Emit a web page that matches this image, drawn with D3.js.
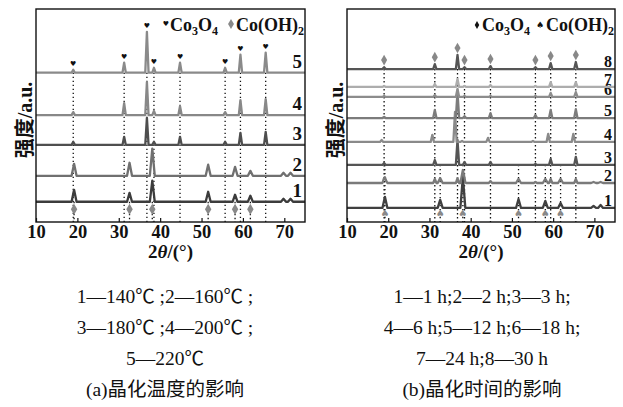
<!DOCTYPE html>
<html>
<head>
<meta charset="utf-8">
<script src="https://cdn.jsdelivr.net/npm/d3@7"></script>
<style>
  body { margin: 0; background: #fff; }
  text { font-family: "Liberation Serif", "Noto Sans CJK SC", serif; }
</style>
</head>
<body>
<script>
// 衍射峰位置 2θ/(°)
const peaksCo3O4 = [19.0, 31.3, 36.8, 38.5, 44.8, 55.7, 59.4, 65.5];
const peaksCoOH2 = [19.2, 32.6, 38.1, 51.6, 58.1, 61.8, 69.8, 71.5];
const xTicks = [10, 20, 30, 40, 50, 60, 70];

// (a) 晶化温度 —— 曲线 1..5，基线偏移和峰高 (a.u.)
const labelsA = ["1", "2", "3", "4", "5"];
const offsetA = [9.5, 21.7, 36.2, 50.2, 70.1];
const co3o4A = [
  [0, 0, 0, 0, 0, 0, 0, 0],
  [0, 0, 0, 0, 0, 0, 0, 0],
  [1.4, 3.8, 12.7, 1.4, 3.8, 1.4, 5.6, 6.1],
  [1.4, 5.6, 15.5, 1.9, 4.2, 1.4, 7.0, 7.5],
  [1.4, 4.7, 19.2, 2.3, 4.7, 2.3, 8.5, 9.4]
];
const coOH2A = [
  [5.6, 4.2, 9.9, 4.7, 3.3, 2.8, 1.4, 1.4],
  [5.6, 6.1, 12.7, 5.2, 4.2, 2.3, 1.4, 1.4],
  [0, 0, 0, 0, 0, 0, 0, 0],
  [0, 0, 0, 0, 0, 0, 0, 0],
  [0, 0, 0, 0, 0, 0, 0, 0]
];
const captionA = ["1—140℃ ;2—160℃ ;", "3—180℃ ;4—200℃ ;", "5—220℃", "(a)晶化温度的影响"];

// (b) 晶化时间 —— 曲线 1..8
const labelsB = ["1", "2", "3", "4", "5", "6", "7", "8"];
const offsetB = [6.6, 18.3, 26.8, 37.6, 48.8, 58.7, 63.4, 71.8];
const shiftB = [0, 0, 0, -0.6, 0, 0, 0, 0];
const co3o4B = [
  [0, 0, 0, 0, 0, 0, 0, 0],
  [0.9, 1.9, 2.3, 0.5, 0.9, 0.5, 1.9, 1.9],
  [0.9, 2.3, 11.7, 1.4, 1.4, 0.5, 2.8, 3.8],
  [0.9, 3.3, 14.1, 0.5, 1.9, 0.5, 3.8, 3.8],
  [0.5, 3.8, 12.2, 0.9, 2.3, 1.4, 3.8, 4.2],
  [0.5, 0.9, 3.8, 0.5, 0.5, 0.5, 1.9, 2.3],
  [0.5, 1.4, 3.8, 0.5, 0.9, 0.5, 2.3, 2.3],
  [0.9, 2.3, 6.6, 0.9, 1.4, 0.9, 2.8, 3.3]
];
const coOH2B = [
  [5.2, 3.8, 14.6, 4.2, 3.3, 2.3, 0.9, 1.4],
  [2.3, 2.3, 6.1, 1.9, 1.9, 1.9, 0.5, 0.5],
  [0, 0, 0, 0, 0, 0, 0, 0],
  [0, 0, 0, 0, 0, 0, 0, 0],
  [0, 0, 0, 0, 0, 0, 0, 0],
  [0, 0, 0, 0, 0, 0, 0, 0],
  [0, 0, 0, 0, 0, 0, 0, 0],
  [0, 0, 0, 0, 0, 0, 0, 0]
];
const captionB = ["1—1 h;2—2 h;3—3 h;", "4—6 h;5—12 h;6—18 h;", "7—24 h;8—30 h", "(b)晶化时间的影响"];

const svg = d3.select("body").append("svg")
  .attr("width", 623)
  .attr("height", 407);

function drawPanel(p) {
  const x = d3.scaleLinear().domain([10, 75]).range([p.left, p.right]);
  const y = d3.scaleLinear().domain([0, 100]).range([222, 9]);
  const g = svg.append("g");
  const n = p.labels.length;
  const top = n - 1;

  // 每条曲线的峰列表
  const peakList = (i) => {
    const shift = p.shift ? p.shift[i] : 0;
    const list = [];
    p.co3o4[i].forEach((h, k) => { if (h > 0) list.push({ p: peaksCo3O4[k] + shift, h, w: 0.4 }); });
    p.cooh2[i].forEach((h, k) => { if (h > 0) list.push({ p: peaksCoOH2[k] + shift, h, w: 0.6 }); });
    return list;
  };

  // 虚线 (先画，在曲线下面)
  g.selectAll(".dot-co3o4")
    .data(peaksCo3O4)
    .join("line")
    .attr("x1", (d) => x(d)).attr("x2", (d) => x(d))
    .attr("y1", y(p.offset[top])).attr("y2", y(0))
    .attr("stroke", "#111").attr("stroke-width", 1.3)
    .attr("stroke-dasharray", "1.4,2.6");

  g.selectAll(".dot-cooh2")
    .data(peaksCoOH2.slice(0, 6))
    .join("line")
    .attr("x1", (d) => x(d)).attr("x2", (d) => x(d))
    .attr("y1", y(p.offset[p.dotTop])).attr("y2", y(0))
    .attr("stroke", "#111").attr("stroke-width", 1.3)
    .attr("stroke-dasharray", "1.4,2.6");

  // 曲线
  const line = d3.line().x((d) => x(d[0])).y((d) => y(d[1]));
  p.labels.forEach((lab, i) => {
    const pk = peakList(i);
    const xs = new Set([10, 75]);
    pk.forEach((q) => { xs.add(q.p - q.w); xs.add(q.p); xs.add(q.p + q.w); });
    const pts = [...xs].sort((a, b) => a - b).map((v) => [
      v,
      p.offset[i] + d3.sum(pk, (q) => Math.max(0, q.h * (1 - Math.abs(v - q.p) / q.w)))
    ]);
    g.append("path")
      .attr("d", line(pts))
      .attr("fill", "none")
      .attr("stroke", p.colors[i])
      .attr("stroke-width", 2.3)
      .attr("stroke-linejoin", "round");

    g.append("text")
      .attr("x", p.right - 3)
      .attr("y", y(p.offset[i]) - p.labelGap)
      .attr("text-anchor", "end")
      .style("font-size", p.labelSize + "px")
      .style("font-weight", "bold")
      .attr("fill", "#111")
      .text(lab);
  });

  // Co3O4 标记 (最上面曲线的峰顶之上)
  const markTop = peaksCo3O4.map((d, k) => ({ a: d, v: p.offset[top] + p.co3o4[top][k] + 3.3 }));
  if (p.heart) {
    g.selectAll(".mk-co3o4")
      .data(markTop)
      .join("text")
      .attr("x", (d) => x(d.a)).attr("y", (d) => y(d.v) + 3)
      .attr("text-anchor", "middle")
      .style("font-family", "DejaVu Sans")
      .style("font-size", "7px")
      .attr("fill", "#111")
      .text("♥");
  } else {
    g.selectAll(".mk-co3o4")
      .data(markTop)
      .join("path")
      .attr("transform", (d) => `translate(${x(d.a)},${y(d.v)})`)
      .attr("d", d3.symbol(d3.symbolDiamond, 32)())
      .attr("fill", "#888");
  }

  // Co(OH)2 标记 (最下面曲线之下)
  const markBot = peaksCoOH2.slice(0, 6);
  if (p.heart) {
    g.selectAll(".mk-cooh2")
      .data(markBot)
      .join("path")
      .attr("transform", (d) => `translate(${x(d)},${y(p.offset[0] - 3.5)})`)
      .attr("d", d3.symbol(d3.symbolDiamond, 36)())
      .attr("fill", "#888");
  } else {
    g.selectAll(".mk-cooh2")
      .data(markBot)
      .join("text")
      .attr("x", (d) => x(d)).attr("y", y(p.offset[0] - 2.5) + 4)
      .attr("text-anchor", "middle")
      .style("font-family", "DejaVu Sans")
      .style("font-size", "10px")
      .attr("fill", "#888")
      .text("♠");
  }

  // 图例
  const leg = g.append("g");
  if (p.heart) {
    leg.append("text").attr("x", p.leg[0]).attr("y", 26)
      .attr("text-anchor", "middle").style("font-family", "DejaVu Sans")
      .style("font-size", "7px").attr("fill", "#111").text("♥");
    leg.append("path").attr("transform", `translate(${p.leg[2]},24)`)
      .attr("d", d3.symbol(d3.symbolDiamond, 30)()).attr("fill", "#888");
  } else {
    leg.append("path").attr("transform", `translate(${p.leg[0]},25)`)
      .attr("d", d3.symbol(d3.symbolDiamond, 18)()).attr("fill", "#111");
    leg.append("text").attr("x", p.leg[2]).attr("y", 28)
      .attr("text-anchor", "middle").style("font-family", "DejaVu Sans")
      .style("font-size", "9px").attr("fill", "#111").text("♠");
  }
  const t1 = leg.append("text").attr("x", p.leg[1]).attr("y", 31)
    .style("font-size", "18px").style("font-weight", "bold").attr("fill", "#111");
  t1.append("tspan").text("Co");
  t1.append("tspan").attr("dy", 4).style("font-size", "12px").text("3");
  t1.append("tspan").attr("dy", -4).text("O");
  t1.append("tspan").attr("dy", 4).style("font-size", "12px").text("4");
  const t2 = leg.append("text").attr("x", p.leg[3]).attr("y", 31)
    .style("font-size", "18px").style("font-weight", "bold").attr("fill", "#111");
  t2.append("tspan").text("Co(OH)");
  t2.append("tspan").attr("dy", 4).style("font-size", "12px").text("2");

  // 边框
  g.append("rect")
    .attr("x", p.left).attr("y", 9)
    .attr("width", p.right - p.left).attr("height", 213)
    .attr("fill", "none").attr("stroke", "#111").attr("stroke-width", 1.4);

  // x 轴
  const ax = g.append("g")
    .attr("transform", "translate(0,222)")
    .call(d3.axisBottom(x).tickValues(xTicks).tickSizeInner(-4).tickSizeOuter(0).tickPadding(3));
  ax.select(".domain").remove();
  ax.selectAll(".tick line").attr("stroke", "#111").attr("stroke-width", 1.2);
  ax.selectAll(".tick text")
    .style("font-family", "Liberation Serif")
    .style("font-size", "18.5px")
    .style("font-weight", "bold")
    .attr("fill", "#111");

  const xl = g.append("text")
    .attr("x", (p.left + p.right) / 2).attr("y", 258)
    .attr("text-anchor", "middle")
    .style("font-size", "19px").style("font-weight", "bold").attr("fill", "#111");
  xl.append("tspan").text("2");
  xl.append("tspan").style("font-style", "italic").text("θ");
  xl.append("tspan").text("/(°)");

  // y 轴标题
  g.append("text")
    .attr("transform", `translate(${p.left - 4},120) rotate(-90)`)
    .attr("text-anchor", "middle")
    .style("font-size", "20px").style("font-weight", "bold").attr("fill", "#111")
    .text("强度/a.u.");

  // 图注
  g.selectAll(".cap")
    .data(p.caption)
    .join("text")
    .attr("x", p.capX)
    .attr("y", (d, i) => 303 + i * 31)
    .attr("text-anchor", "middle")
    .style("font-size", "19.5px")
    .attr("fill", "#111")
    .text((d) => d);
}

drawPanel({
  left: 36, right: 305,
  labels: labelsA, offset: offsetA, co3o4: co3o4A, cooh2: coOH2A,
  colors: ["#3c3c3c", "#707070", "#4e4e4e", "#888888", "#8a8a8a"],
  dotTop: 0, labelGap: 5, labelSize: 19, heart: true,
  leg: [166, 170, 231, 236],
  caption: captionA, capX: 165
});

drawPanel({
  left: 347, right: 615,
  labels: labelsB, offset: offsetB, co3o4: co3o4B, cooh2: coOH2B, shift: shiftB,
  colors: ["#404040", "#7a7a7a", "#555555", "#8a8a8a", "#7c7c7c", "#8c8c8c", "#adadad", "#555555"],
  dotTop: 2, labelGap: 2, labelSize: 16, heart: false,
  leg: [477, 482, 540, 546],
  caption: captionB, capX: 482
});
</script>
</body>
</html>
